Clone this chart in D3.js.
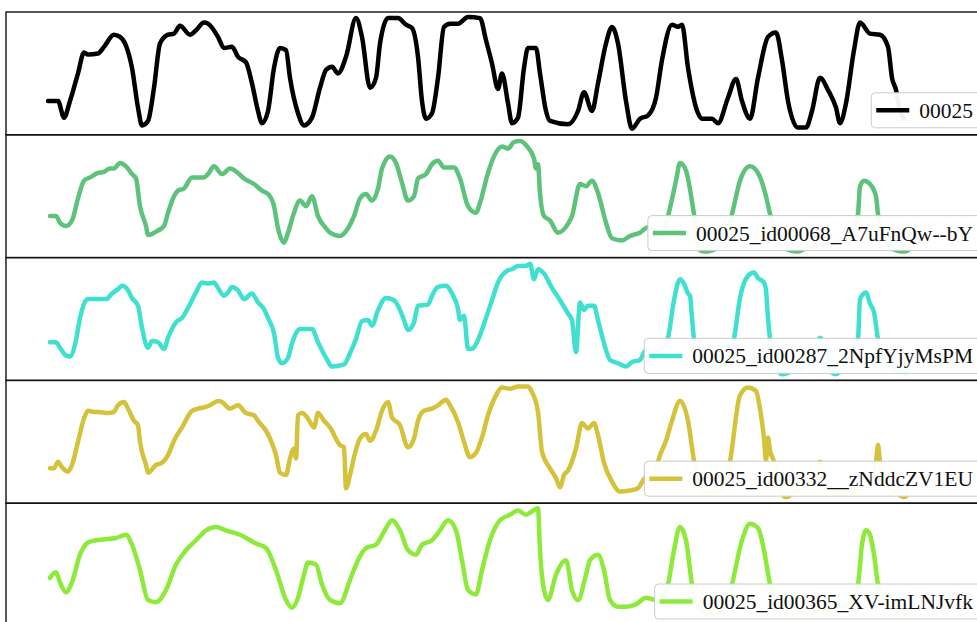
<!DOCTYPE html>
<html>
<head>
<meta charset="utf-8">
<script src="https://cdn.jsdelivr.net/npm/d3@7"></script>
<style>
  body { margin: 0; background: #fff; }
  svg { display: block; }
</style>
</head>
<body>
<div id="chart"></div>
<script>
// legend labels, one per stacked panel
const labels = [
  "00025",
  "00025_id00068_A7uFnQw--bY",
  "00025_id00287_2NpfYjyMsPM",
  "00025_id00332__zNddcZV1EU",
  "00025_id00365_XV-imLNJvfk"
]
const colors = ["#000000", "#5dc27a", "#40e0d0", "#d4c23a", "#8eea3a"]

// [frame, normalised value]
const s00025 = [[0,25],[5,25],[8,10],[11,25],[15,50],[18,69],[20,67],[25,68],[28,74],[33,85],[36,83],[39,75],[42,55],[45,19],[47,3],[50,7],[53,37],[56,77],[60,85],[63,86],[66,93],[71,85],[74,89],[78,96],[80,95],[85,83],[88,73],[92,74],[95,65],[99,60],[102,41],[105,16],[107,5],[110,16],[113,55],[116,73],[119,71],[121,46],[125,14],[128,3],[132,10],[136,37],[139,53],[142,56],[145,50],[149,65],[154,100],[157,83],[161,37],[164,46],[166,77],[170,100],[175,100],[179,94],[182,91],[185,65],[187,25],[189,9],[192,14],[195,46],[198,92],[201,95],[205,95],[210,101],[216,100],[219,80],[222,59],[225,36],[227,50],[230,23],[232,5],[235,10],[238,55],[240,73],[244,73],[246,50],[249,16],[251,7],[260,4],[265,16],[268,33],[272,16],[275,41],[279,77],[282,92],[285,77],[289,25],[292,0],[296,9],[300,12],[304,28],[307,62],[312,94],[315,92],[317,94],[320,55],[325,14],[327,9],[332,9],[335,5],[340,28],[344,45],[347,25],[351,9],[355,46],[360,83],[364,87],[367,62],[370,25],[375,1],[379,1],[382,16],[386,46],[390,35],[394,19],[396,5],[399,23],[403,71],[406,96],[411,86],[416,85],[420,74],[422,46],[424,35],[426,16],[428,9]]
const s00068 = [[1,32],[4,32],[6,26],[9,23],[12,28],[15,48],[18,64],[21,67],[25,71],[28,72],[31,75],[33,75],[36,80],[39,77],[42,70],[44,66],[46,41],[49,23],[50,15],[55,19],[58,23],[60,35],[63,50],[65,55],[68,57],[72,67],[78,67],[80,70],[83,77],[87,70],[91,75],[95,71],[98,66],[103,61],[107,55],[110,52],[113,41],[115,21],[118,8],[120,17],[123,35],[126,46],[129,41],[132,50],[135,32],[139,21],[141,17],[146,14],[150,21],[153,32],[156,48],[159,52],[162,46],[165,57],[167,75],[171,86],[174,80],[177,62],[180,46],[183,50],[185,66],[189,70],[192,79],[195,82],[198,76],[203,76],[206,66],[210,41],[214,35],[216,44],[220,71],[223,86],[227,95],[230,93],[233,99],[236,100],[240,94],[243,84],[244,75],[245,79],[246,53],[248,32],[251,28],[255,17],[260,25],[262,32],[266,61],[269,59],[272,64],[275,53],[279,26],[282,12],[287,10],[291,14],[296,17],[300,22],[306,12],[310,32],[314,64],[316,80],[319,73],[323,34],[326,1],[329,0],[332,1],[336,5],[342,34],[346,64],[351,77],[355,71],[359,50],[361,34],[365,10],[371,1],[375,0],[379,3],[386,5],[396,10],[402,19],[405,34],[406,59],[408,64],[411,61],[414,50],[415,34],[419,10],[424,1],[428,0],[430,1]]
const s00287 = [[1,29],[4,29],[6,24],[9,17],[11,16],[14,31],[16,51],[19,67],[20,68],[29,68],[32,73],[35,77],[37,80],[40,76],[42,69],[45,62],[47,42],[50,24],[52,30],[55,29],[58,23],[60,33],[64,47],[67,51],[70,60],[74,74],[77,83],[80,82],[83,83],[85,78],[88,71],[90,74],[92,79],[95,76],[98,68],[102,73],[105,65],[108,59],[110,51],[113,37],[115,15],[117,10],[120,15],[122,28],[125,40],[126,41],[130,41],[132,41],[135,29],[139,15],[142,7],[148,9],[151,19],[154,32],[157,48],[160,49],[162,44],[165,58],[169,69],[173,67],[175,62],[178,49],[180,40],[183,47],[185,62],[190,63],[192,71],[195,79],[199,80],[202,73],[205,59],[206,49],[208,53],[210,23],[212,23],[215,31],[219,51],[222,67],[225,83],[230,94],[232,95],[235,98],[239,98],[241,100],[243,86],[245,95],[248,91],[252,78],[256,67],[260,55],[262,49],[264,20],[266,65],[268,58],[270,62],[273,62],[275,49],[278,28],[281,13],[285,10],[289,7],[292,11],[296,13],[299,22],[304,20],[307,23],[310,33],[313,67],[316,86],[318,82],[320,73],[321,71],[322,51],[323,32],[326,13],[330,5],[335,5],[339,13],[343,32],[346,69],[350,89],[353,92],[355,87],[358,83],[359,76],[360,51],[361,32],[364,8],[367,0],[371,2],[379,8],[384,22],[386,33],[389,22],[391,4],[394,0],[397,5],[401,17],[405,32],[406,68],[409,74],[411,64],[413,56],[415,32],[419,13],[424,4],[429,2]]
const s00332 = [[1,26],[3,26],[5,32],[7,27],[10,23],[12,29],[15,50],[18,71],[20,78],[23,77],[25,77],[30,76],[33,77],[35,83],[38,86],[40,80],[43,69],[45,65],[46,50],[49,29],[50,22],[54,29],[57,31],[60,38],[63,51],[67,63],[72,78],[75,80],[78,81],[81,83],[85,87],[87,86],[91,80],[95,83],[99,76],[103,74],[105,69],[109,60],[111,53],[114,38],[116,22],[119,20],[121,35],[123,44],[124,35],[125,74],[127,76],[130,71],[133,63],[135,76],[138,69],[141,63],[146,47],[148,45],[149,8],[151,20],[153,36],[156,53],[159,57],[161,51],[164,60],[167,78],[170,86],[172,72],[176,65],[180,45],[183,53],[185,69],[188,78],[192,80],[195,83],[199,88],[201,83],[205,68],[208,50],[211,36],[214,40],[217,54],[220,74],[224,92],[227,99],[231,98],[235,100],[240,100],[242,95],[245,77],[247,41],[251,26],[254,17],[256,9],[258,20],[260,24],[264,44],[267,67],[270,62],[273,67],[275,56],[278,31],[282,14],[286,5],[291,6],[295,8],[299,18],[301,15],[304,24],[305,32],[309,51],[312,69],[316,87],[320,69],[323,33],[326,11],[330,4],[335,5],[339,15],[341,32],[346,92],[350,99],[354,96],[356,80],[358,53],[359,33],[360,54],[361,42],[363,32],[365,11],[369,0],[374,5],[381,11],[385,24],[386,32],[388,20],[391,6],[399,4],[406,6],[411,15],[414,32],[415,47],[416,32],[419,11],[424,4],[428,0],[430,2]]
const s00365 = [[1,38],[4,43],[6,34],[9,25],[12,34],[16,59],[20,70],[24,72],[34,74],[39,77],[42,68],[46,45],[50,18],[54,16],[59,27],[64,50],[69,63],[74,72],[79,81],[84,84],[89,81],[96,77],[104,69],[109,65],[114,45],[119,18],[122,11],[125,20],[128,41],[130,52],[134,50],[137,32],[141,18],[146,15],[151,36],[155,54],[159,65],[164,68],[169,83],[172,90],[176,81],[180,63],[184,59],[187,68],[192,72],[196,81],[200,90],[204,81],[207,54],[210,27],[214,23],[217,45],[221,72],[226,90],[231,95],[235,99],[239,95],[241,97],[245,101],[246,63],[248,27],[250,18],[254,41],[259,54],[262,27],[265,18],[269,41],[271,54],[275,59],[278,45],[281,18],[285,12],[289,12],[294,14],[299,20],[304,18],[307,20],[310,32],[313,63],[316,84],[319,72],[322,32],[326,9],[331,5],[336,7],[340,18],[342,32],[347,72],[351,87],[355,83],[358,63],[361,32],[365,9],[371,5],[379,7],[386,9],[396,11],[402,18],[405,32],[407,68],[409,81],[411,77],[413,59],[415,32],[419,14],[424,7],[429,5]]
const allSeries = [s00025, s00068, s00287, s00332, s00365]

const width = 977, height = 622
const margin = { top: 12, left: 6, right: 991 }
const panelH = 122.8
const pad = 6.1

const svg = d3.select("#chart").append("svg")
  .attr("width", width)
  .attr("height", height)

// shared x scale (frames)
const xScale = d3.scaleLinear()
  .domain([0, 430])
  .range([48, 908])

allSeries.forEach((data, i) => {
  const top = margin.top + i * panelH
  const bottom = top + panelH
  const g = svg.append("g").attr("class", "panel")

  const yScale = d3.scaleLinear()
    .domain([0, 100])
    .range([bottom - pad, top + pad])

  g.append("clipPath").attr("id", "clip" + i)
    .append("rect")
    .attr("x", margin.left).attr("y", top)
    .attr("width", margin.right - margin.left).attr("height", panelH)

  const line = d3.line()
    .x(d => xScale(d[0]))
    .y(d => yScale(d[1]))
    .curve(d3.curveMonotoneX)

  g.append("path")
    .datum(data)
    .attr("clip-path", `url(#clip${i})`)
    .attr("fill", "none")
    .attr("stroke", colors[i])
    .attr("stroke-width", 4.5)
    .attr("stroke-linejoin", "round")
    .attr("stroke-linecap", "round")
    .attr("d", line)

  // legend, lower right
  const lg = g.append("g")
  const box = lg.append("rect")
  const txt = lg.append("text")
    .text(labels[i])
    .attr("font-family", "'Liberation Serif', 'Times New Roman', serif")
    .attr("font-size", 21.5)
    .attr("fill", "#111")
  const tw = txt.node().getComputedTextLength()
  const boxR = 982, boxB = bottom - 7, boxH = 35
  const boxL = boxR - (5 + 33 + 10 + tw + 9)
  box.attr("x", boxL).attr("y", boxB - boxH)
    .attr("width", boxR - boxL).attr("height", boxH)
    .attr("rx", 4)
    .attr("fill", "#fff").attr("fill-opacity", 0.95)
    .attr("stroke", "#cccccc").attr("stroke-width", 1)
  lg.append("line")
    .attr("x1", boxL + 5).attr("x2", boxL + 38)
    .attr("y1", boxB - boxH / 2).attr("y2", boxB - boxH / 2)
    .attr("stroke", colors[i]).attr("stroke-width", 4.5)
  txt.attr("x", boxL + 48).attr("y", boxB - boxH / 2 + 7.5)

  // axes frame
  g.append("rect")
    .attr("x", margin.left).attr("y", top)
    .attr("width", margin.right - margin.left).attr("height", panelH)
    .attr("fill", "none")
    .attr("stroke", "#111").attr("stroke-width", 1.4)
})
</script>
</body>
</html>
